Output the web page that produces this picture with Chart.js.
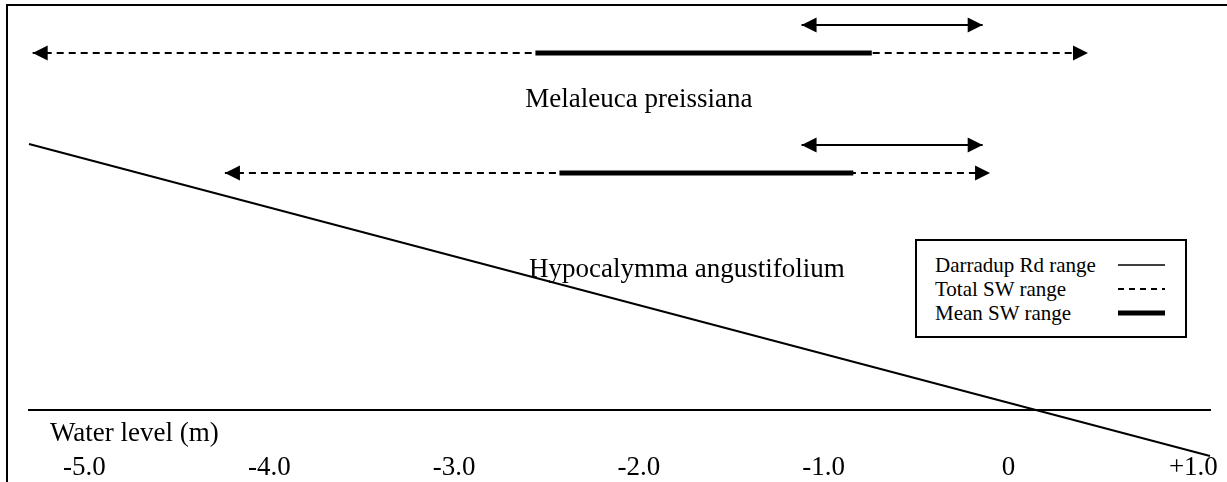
<!DOCTYPE html>
<html>
<head>
<meta charset="utf-8">
<script src="https://cdn.jsdelivr.net/npm/chart.js@4.4.1/dist/chart.umd.min.js"></script>
<style>
  html, body { margin: 0; padding: 0; background: #fff; }
  #wrap { position: relative; width: 1227px; height: 482px; overflow: hidden; font-family: 'Liberation Serif', 'Times New Roman', serif; color: #000; }
  #frame { position: absolute; left: 6px; top: 4px; width: 1300px; height: 600px; border-top: 2px solid #000; border-left: 2px solid #000; }
  #chart { position: absolute; left: 0; top: 0; }
  #legend { position: absolute; left: 915px; top: 239px; width: 268px; height: 95px; border: 2px solid #000; background: #fff; }
  #legend .row { position: absolute; left: 18px; height: 24px; line-height: 24px; font-size: 21px; white-space: nowrap; }
  #legend svg { position: absolute; left: 201px; }
</style>
</head>
<body>
<div id="wrap">
  <div id="frame"></div>
  <canvas id="chart" width="1227" height="482"></canvas>
  <div id="legend"></div>
</div>
<script>
// species ranges in water level (m)
const species = ['Melaleuca preissiana', 'Hypocalymma angustifolium'];
const darradupRange = [[-1.12, -0.14], [-1.12, -0.14]];
const totalSWRange = [[-5.28, 0.43], [-4.24, -0.10]];
const meanSWRange = [[-2.56, -0.74], [-2.43, -0.84]];

// sloping line across the figure (x in m, y in figure units 0..100)
const groundLineX = [-5.3, 1.09];
const groundLineY = [66.5, -11.5];

// axis
const tickValues = [-5, -4, -3, -2, -1, 0, 1];
const tickLabels = ['-5.0', '-4.0', '-3.0', '-2.0', '-1.0', '0', '+1.0'];
const axisCaption = 'Water level (m)';

// legend
const legendLabels = ['Darradup Rd range', 'Total SW range', 'Mean SW range'];

// where each species sits vertically (figure units)
const swRowY = [89.25, 59.25];
const darradupRowY = [96.25, 66.25];
const speciesLabelAt = [[-2.0, 77.5], [-1.74, 35]];

const black = '#000';
const bigFont = '27px "Liberation Serif"';

const datasets = [];
species.forEach((name, i) => {
  datasets.push({
    label: name + ' mean SW',
    data: meanSWRange[i].map(v => ({ x: v, y: swRowY[i] })),
    borderColor: black, borderWidth: 5, order: 1,
  });
  datasets.push({
    label: name + ' total SW',
    data: totalSWRange[i].map(v => ({ x: v, y: swRowY[i] })),
    borderColor: black, borderWidth: 2, borderDash: [7, 5], order: 2, arrows: true,
  });
  datasets.push({
    label: name + ' Darradup Rd',
    data: darradupRange[i].map(v => ({ x: v, y: darradupRowY[i] })),
    borderColor: black, borderWidth: 2, order: 1, arrows: true,
  });
});
datasets.push({
  label: 'slope',
  data: groundLineX.map((x, i) => ({ x, y: groundLineY[i] })),
  borderColor: black, borderWidth: 2, order: 3, clip: false,
});

function drawHead(ctx, x, y, dir){
  ctx.beginPath();
  ctx.moveTo(x, y);
  ctx.lineTo(x - dir * 15, y - 7.5);
  ctx.lineTo(x - dir * 15, y + 7.5);
  ctx.closePath();
  ctx.fill();
}

const arrowHeads = {
  id: 'arrowHeads',
  afterDatasetsDraw(chart){
    const ctx = chart.ctx;
    ctx.save();
    ctx.fillStyle = black;
    chart.data.datasets.forEach((ds, i) => {
      if(!ds.arrows) return;
      const pts = chart.getDatasetMeta(i).data;
      drawHead(ctx, pts[0].x, pts[0].y, -1);
      drawHead(ctx, pts[pts.length - 1].x, pts[pts.length - 1].y, 1);
    });
    ctx.restore();
  }
};

const textLabels = {
  id: 'textLabels',
  afterDatasetsDraw(chart){
    const { ctx, chartArea, scales: { x, y } } = chart;
    ctx.save();
    ctx.fillStyle = black;
    ctx.font = bigFont;
    ctx.textAlign = 'center';
    ctx.textBaseline = 'middle';
    species.forEach((name, i) => {
      ctx.fillText(name, x.getPixelForValue(speciesLabelAt[i][0]), y.getPixelForValue(speciesLabelAt[i][1]));
    });
    ctx.textAlign = 'left';
    ctx.fillText(axisCaption, chartArea.left + 21, chartArea.bottom + 24);
    ctx.restore();
  }
};

new Chart(document.getElementById('chart').getContext('2d'), {
  type: 'line',
  data: { datasets },
  options: {
    responsive: false,
    animation: false,
    layout: { padding: { left: 29, right: 17, top: 10, bottom: 0 } },
    elements: { point: { radius: 0 }, line: { tension: 0 } },
    plugins: { legend: { display: false }, tooltip: { enabled: false } },
    scales: {
      x: {
        type: 'linear', min: -5.3, max: 1.09,
        // invisible tick marks just push the labels down below the caption
        grid: { display: true, drawOnChartArea: false, drawTicks: true, tickLength: 44, tickColor: 'rgba(0,0,0,0)' },
        border: { display: true, color: black, width: 2 },
        afterBuildTicks: s => { s.ticks = tickValues.map(v => ({ value: v })); },
        ticks: {
          autoSkip: false, maxRotation: 0, padding: 2, color: black,
          font: { family: 'Liberation Serif', size: 27, lineHeight: 0.89 },
          callback: (v, i) => tickLabels[i],
        },
      },
      y: { type: 'linear', display: false, min: 0, max: 100 },
    },
  },
  plugins: [arrowHeads, textLabels],
});

// legend box: label on the left, line sample on the right
const legendStyles = [
  { width: 1.5, dash: '' },
  { width: 2, dash: '6 5' },
  { width: 5, dash: '' },
];
const legendEl = document.getElementById('legend');
legendLabels.forEach((label, i) => {
  const top = 12 + i * 24;
  const row = document.createElement('div');
  row.className = 'row';
  row.style.top = top + 'px';
  row.textContent = label;
  legendEl.appendChild(row);
  const st = legendStyles[i];
  const svg = document.createElementNS('http://www.w3.org/2000/svg', 'svg');
  svg.setAttribute('width', '47');
  svg.setAttribute('height', '10');
  svg.style.top = (top + 7) + 'px';
  svg.innerHTML = `<line x1="0" y1="5" x2="47" y2="5" stroke="#000" stroke-width="${st.width}" ${st.dash ? `stroke-dasharray="${st.dash}"` : ''}/>`;
  legendEl.appendChild(svg);
});
</script>
</body>
</html>
